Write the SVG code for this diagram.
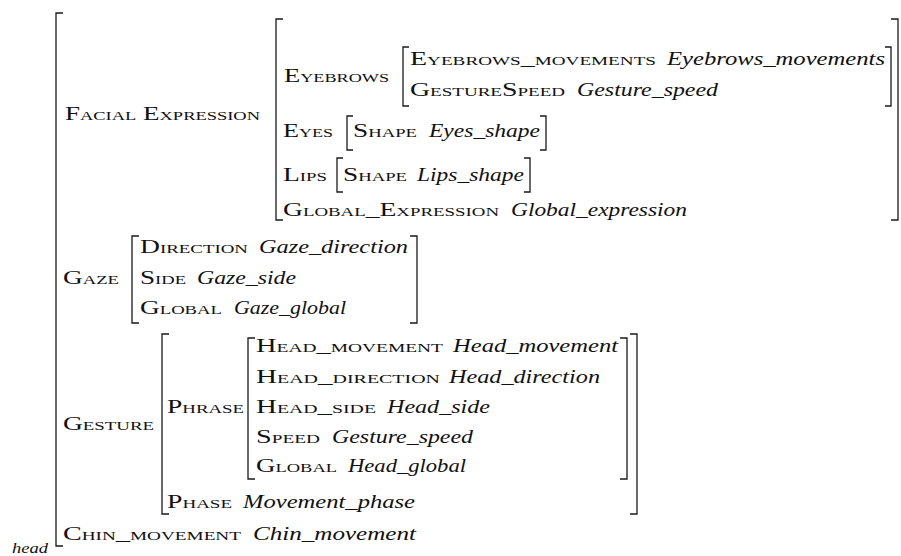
<svg xmlns="http://www.w3.org/2000/svg" width="901" height="556" viewBox="0 0 901 556">
  <style>
    text { font-family: "Liberation Serif", "DejaVu Serif", serif; font-size: 19px; fill: #111; }
    .sc { font-variant: small-caps; }
    .it { font-style: italic; }
    .sub { font-style: italic; font-size: 14px; }
    .br { fill: none; stroke: #1a1a1a; stroke-width: 1.3; }
  </style>
  <rect width="901" height="556" fill="#ffffff"/>

  <!-- brackets of the nested attribute-value matrices -->
  <g id="brackets">
    <path class="br" d="M63,13 H56 V546 H63"/>
    <path class="br" d="M283,19 H276 V220 H283"/>
    <path class="br" d="M891,19 H898 V220 H891"/>
    <path class="br" d="M409,47 H403 V106 H409"/>
    <path class="br" d="M885,47 H891 V106 H885"/>
    <path class="br" d="M353,116 H347 V150 H353"/>
    <path class="br" d="M540,116 H546 V150 H540"/>
    <path class="br" d="M343,158 H337 V192 H343"/>
    <path class="br" d="M524,158 H530 V192 H524"/>
    <path class="br" d="M139,236 H132 V323 H139"/>
    <path class="br" d="M410,236 H417 V323 H410"/>
    <path class="br" d="M169,334 H162 V514 H169"/>
    <path class="br" d="M630,334 H637 V514 H630"/>
    <path class="br" d="M255,338 H248 V479 H255"/>
    <path class="br" d="M620,338 H627 V479 H620"/>
  </g>

  <!-- facial expression -->
  <g id="facial-expression">
    <text class="sc" x="65" y="120" textLength="195" lengthAdjust="spacingAndGlyphs">Facial Expression</text>
    <text class="sc" x="284" y="82" textLength="105" lengthAdjust="spacingAndGlyphs">Eyebrows</text>
    <text class="sc" x="410" y="65" textLength="246" lengthAdjust="spacingAndGlyphs">Eyebrows_movements</text>
    <text class="it" x="667" y="65" textLength="218" lengthAdjust="spacingAndGlyphs">Eyebrows_movements</text>
    <text class="sc" x="410" y="96" textLength="155" lengthAdjust="spacingAndGlyphs">GestureSpeed</text>
    <text class="it" x="577" y="96" textLength="141" lengthAdjust="spacingAndGlyphs">Gesture_speed</text>
    <text class="sc" x="283" y="137" textLength="50" lengthAdjust="spacingAndGlyphs">Eyes</text>
    <text class="sc" x="353" y="137" textLength="64" lengthAdjust="spacingAndGlyphs">Shape</text>
    <text class="it" x="429" y="137" textLength="111" lengthAdjust="spacingAndGlyphs">Eyes_shape</text>
    <text class="sc" x="283" y="181" textLength="44" lengthAdjust="spacingAndGlyphs">Lips</text>
    <text class="sc" x="343" y="181" textLength="64" lengthAdjust="spacingAndGlyphs">Shape</text>
    <text class="it" x="417" y="181" textLength="107" lengthAdjust="spacingAndGlyphs">Lips_shape</text>
    <text class="sc" x="283" y="216" textLength="216" lengthAdjust="spacingAndGlyphs">Global_Expression</text>
    <text class="it" x="511" y="216" textLength="176" lengthAdjust="spacingAndGlyphs">Global_expression</text>
  </g>

  <!-- gaze -->
  <g id="gaze">
    <text class="sc" x="63" y="284" textLength="56" lengthAdjust="spacingAndGlyphs">Gaze</text>
    <text class="sc" x="140" y="253" textLength="108" lengthAdjust="spacingAndGlyphs">Direction</text>
    <text class="it" x="259" y="253" textLength="149" lengthAdjust="spacingAndGlyphs">Gaze_direction</text>
    <text class="sc" x="140" y="284" textLength="46" lengthAdjust="spacingAndGlyphs">Side</text>
    <text class="it" x="197" y="284" textLength="99" lengthAdjust="spacingAndGlyphs">Gaze_side</text>
    <text class="sc" x="140" y="314" textLength="82" lengthAdjust="spacingAndGlyphs">Global</text>
    <text class="it" x="234" y="314" textLength="112" lengthAdjust="spacingAndGlyphs">Gaze_global</text>
  </g>

  <!-- gesture -->
  <g id="gesture">
    <text class="sc" x="63" y="430" textLength="91" lengthAdjust="spacingAndGlyphs">Gesture</text>
    <text class="sc" x="167" y="413" textLength="77" lengthAdjust="spacingAndGlyphs">Phrase</text>
    <text class="sc" x="256" y="352" textLength="187" lengthAdjust="spacingAndGlyphs">Head_movement</text>
    <text class="it" x="453" y="352" textLength="165" lengthAdjust="spacingAndGlyphs">Head_movement</text>
    <text class="sc" x="256" y="383" textLength="184" lengthAdjust="spacingAndGlyphs">Head_direction</text>
    <text class="it" x="449" y="383" textLength="151" lengthAdjust="spacingAndGlyphs">Head_direction</text>
    <text class="sc" x="256" y="413" textLength="120" lengthAdjust="spacingAndGlyphs">Head_side</text>
    <text class="it" x="387" y="413" textLength="103" lengthAdjust="spacingAndGlyphs">Head_side</text>
    <text class="sc" x="256" y="443" textLength="64" lengthAdjust="spacingAndGlyphs">Speed</text>
    <text class="it" x="332" y="443" textLength="141" lengthAdjust="spacingAndGlyphs">Gesture_speed</text>
    <text class="sc" x="256" y="472" textLength="81" lengthAdjust="spacingAndGlyphs">Global</text>
    <text class="it" x="348" y="472" textLength="118" lengthAdjust="spacingAndGlyphs">Head_global</text>
    <text class="sc" x="167" y="508" textLength="65" lengthAdjust="spacingAndGlyphs">Phase</text>
    <text class="it" x="243" y="508" textLength="172" lengthAdjust="spacingAndGlyphs">Movement_phase</text>
  </g>

  <!-- chin -->
  <g id="chin">
    <text class="sc" x="63" y="540" textLength="178" lengthAdjust="spacingAndGlyphs">Chin_movement</text>
    <text class="it" x="253" y="540" textLength="163" lengthAdjust="spacingAndGlyphs">Chin_movement</text>
  </g>

  <text class="sub" x="12" y="553" textLength="36" lengthAdjust="spacingAndGlyphs">head</text>
</svg>
